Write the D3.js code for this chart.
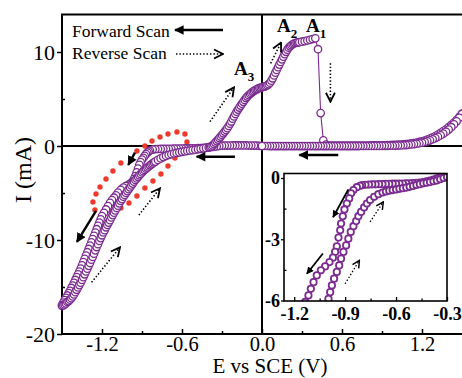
<!DOCTYPE html>
<html>
<head>
<meta charset="utf-8">
<script src="https://cdn.jsdelivr.net/npm/d3@7"></script>
<style>
  body { margin: 0; background: #fff; }
  svg { display: block; }
  text { font-family: "Liberation Serif", "Times New Roman", serif; fill: #000; }
</style>
</head>
<body>
<svg id="chart" width="462" height="378"></svg>
<script>
// ---- Cyclic voltammogram: potential E (V vs SCE), current I (mA) ----

// forward scan, 0 V down to -1.5 V
const forwardToCathodic = [
  [0.00,0.00],[-0.02,0.02],[-0.04,0.03],[-0.06,0.04],[-0.08,0.05],[-0.10,0.05],[-0.12,0.06],
  [-0.14,0.06],[-0.16,0.06],[-0.18,0.06],[-0.20,0.06],[-0.22,0.06],[-0.24,0.05],[-0.26,0.05],
  [-0.28,0.04],[-0.30,0.03],[-0.32,0.00],[-0.34,-0.04],[-0.36,-0.08],[-0.38,-0.12],[-0.40,-0.15],
  [-0.42,-0.18],[-0.44,-0.20],[-0.46,-0.22],[-0.48,-0.23],[-0.50,-0.24],[-0.52,-0.25],[-0.54,-0.25],
  [-0.56,-0.26],[-0.58,-0.26],[-0.60,-0.27],[-0.62,-0.27],[-0.64,-0.28],[-0.66,-0.28],[-0.68,-0.29],
  [-0.70,-0.29],[-0.72,-0.30],[-0.74,-0.30],[-0.76,-0.31],[-0.78,-0.32],[-0.80,-0.34],[-0.82,-0.38],
  [-0.84,-0.48],[-0.85,-0.58],[-0.86,-0.70],[-0.87,-0.86],[-0.88,-1.05],[-0.89,-1.25],[-0.90,-1.45],
  [-0.91,-1.70],[-0.92,-2.00],[-0.93,-2.40],[-0.94,-2.80],[-0.95,-3.20],[-0.96,-3.50],[-0.97,-3.75],
  [-0.98,-3.92],[-0.99,-4.03],[-1.00,-4.12],[-1.02,-4.25],[-1.04,-4.42],[-1.06,-4.65],[-1.08,-4.95],
  [-1.095,-5.25],[-1.11,-5.50],[-1.125,-5.75],[-1.14,-6.05],[-1.155,-6.40],[-1.17,-6.75],[-1.185,-7.10],
  [-1.20,-7.45],[-1.21,-7.80],[-1.22,-8.15],[-1.23,-8.50],[-1.24,-8.85],[-1.25,-9.20],[-1.26,-9.55],
  [-1.27,-9.90],[-1.28,-10.25],[-1.29,-10.60],[-1.30,-10.95],[-1.31,-11.30],[-1.32,-11.65],[-1.33,-12.00],
  [-1.34,-12.35],[-1.35,-12.70],[-1.36,-13.05],[-1.37,-13.35],[-1.38,-13.65],[-1.39,-13.95],[-1.40,-14.25],
  [-1.41,-14.55],[-1.42,-14.85],[-1.43,-15.10],[-1.44,-15.40],[-1.45,-15.65],[-1.46,-15.90],[-1.47,-16.15],
  [-1.48,-16.40],[-1.49,-16.65],[-1.50,-16.90]
];

// reverse scan, -1.5 V up to +1.5 V
const reverseScan = [
  [-1.50,-17.00],[-1.49,-16.95],[-1.48,-16.85],[-1.47,-16.75],[-1.46,-16.60],[-1.45,-16.50],[-1.44,-16.35],
  [-1.43,-16.20],[-1.42,-16.00],[-1.41,-15.80],[-1.40,-15.55],[-1.39,-15.30],[-1.38,-15.05],[-1.37,-14.80],
  [-1.36,-14.55],[-1.35,-14.25],[-1.34,-13.95],[-1.33,-13.65],[-1.32,-13.35],[-1.31,-13.05],[-1.30,-12.75],
  [-1.29,-12.45],[-1.28,-12.10],[-1.27,-11.80],[-1.26,-11.45],[-1.25,-11.10],[-1.24,-10.75],[-1.23,-10.45],
  [-1.22,-10.10],[-1.21,-9.80],[-1.20,-9.50],[-1.19,-9.20],[-1.18,-8.95],[-1.17,-8.65],[-1.16,-8.40],
  [-1.15,-8.15],[-1.14,-7.90],[-1.13,-7.60],[-1.12,-7.35],[-1.11,-7.10],[-1.10,-6.85],[-1.09,-6.60],
  [-1.08,-6.35],[-1.07,-6.10],[-1.06,-5.85],[-1.05,-5.65],[-1.04,-5.40],[-1.03,-5.20],[-1.02,-5.00],
  [-1.01,-4.80],[-1.00,-4.60],[-0.99,-4.40],[-0.98,-4.20],[-0.97,-4.00],[-0.96,-3.80],[-0.95,-3.62],
  [-0.94,-3.45],[-0.93,-3.28],[-0.92,-3.12],[-0.91,-2.97],[-0.90,-2.82],[-0.89,-2.68],[-0.88,-2.55],
  [-0.87,-2.42],[-0.86,-2.30],[-0.85,-2.18],[-0.84,-2.06],[-0.83,-1.95],[-0.82,-1.85],[-0.81,-1.75],
  [-0.80,-1.66],[-0.78,-1.48],[-0.76,-1.32],[-0.74,-1.18],[-0.72,-1.06],[-0.70,-0.96],[-0.68,-0.88],
  [-0.66,-0.80],[-0.64,-0.74],[-0.62,-0.68],[-0.60,-0.62],[-0.58,-0.57],[-0.56,-0.52],[-0.54,-0.48],
  [-0.52,-0.44],[-0.50,-0.40],[-0.48,-0.35],[-0.46,-0.30],[-0.44,-0.25],[-0.42,-0.20],[-0.40,-0.14],
  [-0.39,-0.10],[-0.38,-0.04],[-0.37,0.06],[-0.36,0.20],[-0.35,0.36],[-0.34,0.52],[-0.33,0.68],
  [-0.32,0.84],[-0.31,1.00],[-0.30,1.17],[-0.29,1.35],[-0.28,1.53],[-0.27,1.71],[-0.26,1.90],
  [-0.25,2.13],[-0.24,2.37],[-0.23,2.60],[-0.22,2.90],[-0.21,3.15],[-0.20,3.40],[-0.19,3.65],
  [-0.18,3.87],[-0.17,4.09],[-0.16,4.30],[-0.15,4.50],[-0.14,4.70],[-0.13,4.90],[-0.12,5.10],
  [-0.11,5.26],[-0.10,5.40],[-0.09,5.53],[-0.08,5.65],[-0.07,5.76],[-0.06,5.86],[-0.05,5.95],
  [-0.04,6.03],[-0.03,6.10],[-0.02,6.16],[-0.01,6.21],[0.00,6.25],[0.01,6.29],[0.02,6.33],
  [0.03,6.38],[0.04,6.46],[0.05,6.58],[0.06,6.73],[0.07,6.95],[0.08,7.20],[0.09,7.50],
  [0.10,7.80],[0.11,8.09],[0.12,8.38],[0.13,8.66],[0.14,8.94],[0.15,9.22],[0.16,9.50],
  [0.17,9.76],[0.18,10.02],[0.19,10.25],[0.20,10.45],[0.21,10.60],[0.22,10.72],[0.23,10.82],
  [0.24,10.90],[0.25,10.96],[0.26,11.00],[0.27,11.02],[0.28,11.04],[0.30,11.10],[0.32,11.15],
  [0.34,11.22],[0.36,11.30],[0.38,11.38],[0.40,11.45],[0.42,10.30],[0.44,3.50],[0.46,0.60],
  [0.48,0.15],[0.50,0.04],[0.52,0.03],[0.54,0.03],[0.56,0.03],[0.58,0.03],[0.60,0.03],
  [0.62,0.03],[0.64,0.03],[0.66,0.03],[0.68,0.04],[0.70,0.04],[0.72,0.04],[0.74,0.04],
  [0.76,0.05],[0.78,0.05],[0.80,0.05],[0.82,0.06],[0.84,0.06],[0.86,0.07],[0.88,0.07],
  [0.90,0.08],[0.92,0.08],[0.94,0.09],[0.96,0.10],[0.98,0.11],[1.00,0.12],[1.02,0.14],
  [1.04,0.16],[1.06,0.18],[1.08,0.21],[1.10,0.24],[1.12,0.28],[1.14,0.32],[1.16,0.37],
  [1.18,0.43],[1.20,0.50],[1.22,0.58],[1.24,0.68],[1.26,0.79],[1.28,0.92],[1.30,1.06],
  [1.32,1.22],[1.34,1.39],[1.36,1.58],[1.38,1.78],[1.40,2.00],[1.42,2.24],[1.44,2.50],
  [1.46,2.78],[1.48,3.10],[1.50,3.45]
];

// forward scan, +1.5 V back to 0 V
const forwardFromAnodic = [
  [1.50,3.40],[1.48,3.00],[1.46,2.62],[1.44,2.30],[1.42,2.00],[1.40,1.75],[1.38,1.52],
  [1.36,1.32],[1.34,1.14],[1.32,0.98],[1.30,0.84],[1.28,0.72],[1.26,0.60],[1.24,0.50],
  [1.22,0.42],[1.20,0.35],[1.18,0.29],[1.16,0.24],[1.14,0.20],[1.12,0.16],[1.10,0.13],
  [1.08,0.10],[1.06,0.08],[1.04,0.06],[1.02,0.05],[1.00,0.04],[0.98,0.03],[0.96,0.03],
  [0.94,0.02],[0.92,0.02],[0.90,0.02],[0.88,0.01],[0.86,0.01],[0.84,0.01],[0.82,0.01],
  [0.80,0.00],[0.78,0.00],[0.76,0.00],[0.74,0.00],[0.72,-0.01],[0.70,-0.01],[0.68,-0.01],
  [0.66,-0.01],[0.64,-0.01],[0.62,-0.01],[0.60,-0.01],[0.58,-0.01],[0.56,-0.01],[0.54,-0.01],
  [0.52,-0.01],[0.50,-0.01],[0.48,-0.01],[0.46,-0.01],[0.44,-0.01],[0.42,-0.01],[0.40,-0.01],
  [0.38,-0.01],[0.36,-0.01],[0.34,-0.01],[0.32,-0.01],[0.30,-0.01],[0.28,-0.01],[0.26,-0.01],
  [0.24,-0.01],[0.22,-0.01],[0.20,-0.01],[0.18,-0.01],[0.16,-0.01],[0.14,-0.01],[0.12,-0.01],
  [0.10,-0.01],[0.08,-0.01],[0.06,-0.01],[0.04,0.00],[0.02,0.00],[0.00,0.00]
];

// enlarged view of the cathodic region (inset)
const insetForward = [
  [-0.30,0.15],[-0.32,0.10],[-0.34,0.05],[-0.36,-0.02],[-0.38,-0.08],[-0.40,-0.13],[-0.42,-0.17],
  [-0.44,-0.20],[-0.46,-0.22],[-0.48,-0.24],[-0.50,-0.25],[-0.52,-0.26],[-0.54,-0.26],[-0.56,-0.27],
  [-0.58,-0.27],[-0.60,-0.28],[-0.62,-0.28],[-0.64,-0.29],[-0.66,-0.29],[-0.68,-0.30],[-0.70,-0.30],
  [-0.72,-0.31],[-0.74,-0.31],[-0.76,-0.32],[-0.78,-0.33],[-0.80,-0.35],[-0.812,-0.38],[-0.831,-0.45],
  [-0.851,-0.59],[-0.865,-0.75],[-0.876,-1.00],[-0.890,-1.25],[-0.904,-1.54],[-0.914,-1.87],
  [-0.924,-2.23],[-0.929,-2.56],[-0.939,-2.92],[-0.949,-3.35],[-0.959,-3.62],[-0.972,-3.90],
  [-0.992,-4.12],[-1.018,-4.33],[-1.043,-4.52],[-1.067,-4.77],[-1.086,-5.10],[-1.102,-5.43],
  [-1.116,-5.75],[-1.135,-6.07],[-1.150,-6.40]
];
const insetReverse = [
  [-1.010,-6.30],[-0.998,-5.92],[-0.988,-5.59],[-0.978,-5.26],[-0.965,-4.93],[-0.949,-4.60],
  [-0.935,-4.28],[-0.924,-3.95],[-0.910,-3.62],[-0.894,-3.30],[-0.881,-2.97],[-0.867,-2.64],
  [-0.851,-2.36],[-0.835,-2.11],[-0.822,-1.87],[-0.806,-1.66],[-0.788,-1.44],[-0.772,-1.25],
  [-0.753,-1.08],[-0.729,-0.92],[-0.704,-0.79],[-0.68,-0.71],[-0.66,-0.66],[-0.64,-0.62],
  [-0.62,-0.59],[-0.60,-0.56],[-0.58,-0.53],[-0.56,-0.50],[-0.54,-0.47],[-0.52,-0.43],
  [-0.50,-0.39],[-0.48,-0.34],[-0.46,-0.30],[-0.44,-0.26],[-0.42,-0.23],[-0.40,-0.20],
  [-0.38,-0.16],[-0.36,-0.12],[-0.34,-0.06],[-0.32,0.00],[-0.30,0.05]
];

// axis ticks
const xTicksMain = [-1.2, -0.6, 0.0, 0.6, 1.2];
const xMinorMain = [-0.9, -0.3, 0.3, 0.9];
const yTicksMain = [-20, -10, 0, 10];
const yMinorMain = [-15, -5, 5];
const xTicksInset = [-1.2, -0.9, -0.6, -0.3];
const xMinorInset = [-1.05, -0.75, -0.45];
const yTicksInset = [-6, -3, 0];
const yMinorInset = [-4.5, -1.5];

// red dotted outline around the cathodic loop (E, I)
const highlightDots = [
  [-0.638,1.49],[-0.578,1.28],[-0.563,0.43],[-0.600,-0.43],[-0.653,-1.28],[-0.705,-2.13],
  [-0.758,-2.98],[-0.818,-3.72],[-0.878,-4.47],[-0.938,-5.32],[-0.998,-6.06],[-1.058,-6.60],
  [-1.125,-6.91],[-1.193,-7.02],[-1.253,-6.81],[-1.268,-5.96],[-1.245,-5.11],[-1.215,-4.36],
  [-1.170,-3.51],[-1.118,-2.66],[-1.058,-1.81],[-0.938,-0.53],[-0.878,0.00],[-0.825,0.53],
  [-0.765,0.96],[-0.705,1.28]
];

// scan-direction arrows, [fromE, fromI, toE, toI]
const forwardArrows = [
  [0.572,-0.96,0.280,-0.96],
  [-0.203,-1.14,-0.490,-1.14],
  [-1.245,-6.91,-1.388,-10.21],
  [-0.953,-0.71,-1.003,-2.02]
];
const reverseArrows = [
  [-0.390,2.59,-0.210,6.24],
  [0.065,8.80,0.143,11.00],
  [0.513,8.80,0.513,4.71],
  [-0.923,-7.34,-0.765,-4.50],
  [-1.278,-14.50,-1.065,-10.78]
];
const insetForwardArrows = [
  [-0.881,-0.56,-0.971,-1.92],
  [-1.031,-3.70,-1.125,-4.69]
];
const insetReverseArrows = [
  [-0.753,-2.15,-0.675,-1.17],
  [-0.900,-5.18,-0.816,-4.03]
];

const purple = "#7b2c8f";
const red = "#ee3a2c";

const svg = d3.select("#chart");

// ---- main plot scales ----
const x = d3.scaleLinear().domain([-1.5, 1.5]).range([62, 462]);
const y = d3.scaleLinear().domain([-20, 14]).range([334, 14.4]);

const fmt = d => d === 0 ? "0.0" : d3.format(".1f")(d).replace("−", "-");

// arrowhead markers
const defs = svg.append("defs");
defs.append("marker").attr("id", "solidHead")
  .attr("viewBox", "0 0 10 10").attr("refX", 9).attr("refY", 5)
  .attr("markerWidth", 4.2).attr("markerHeight", 4).attr("markerUnits", "strokeWidth")
  .attr("orient", "auto")
  .append("path").attr("d", "M0,0 L10,5 L0,10 Z").attr("fill", "#000");
defs.append("marker").attr("id", "openHead")
  .attr("viewBox", "0 0 10 10").attr("refX", 9).attr("refY", 5)
  .attr("markerWidth", 7).attr("markerHeight", 7).attr("markerUnits", "strokeWidth")
  .attr("orient", "auto")
  .append("path").attr("d", "M1,1 L9,5 L1,9").attr("fill", "none")
  .attr("stroke", "#000").attr("stroke-width", 1.6);
defs.append("clipPath").attr("id", "insetClip")
  .append("rect").attr("x", 284).attr("y", 173.5).attr("width", 163).attr("height", 127.5);

// zero lines
svg.append("line").attr("x1", x(-1.5)).attr("x2", x(1.5)).attr("y1", y(0)).attr("y2", y(0))
  .attr("stroke", "#000").attr("stroke-width", 2);
svg.append("line").attr("x1", x(0)).attr("x2", x(0)).attr("y1", y(-20)).attr("y2", y(14))
  .attr("stroke", "#000").attr("stroke-width", 2);

// frame (left, bottom, top)
svg.append("path")
  .attr("d", `M${x(1.5)},${y(14)} L${x(-1.5)},${y(14)} L${x(-1.5)},${y(-20)} L${x(1.5)},${y(-20)}`)
  .attr("fill", "none").attr("stroke", "#000").attr("stroke-width", 2);

// axes
const xAxis = svg.append("g").attr("transform", `translate(0,${y(-20)})`)
  .call(d3.axisBottom(x).tickValues(xTicksMain).tickSize(-5).tickPadding(2.5).tickFormat(fmt));
xAxis.select(".domain").remove();
xAxis.selectAll("line").attr("stroke", "#000").attr("stroke-width", 1.5);
xAxis.selectAll("text").attr("font-size", 20.5).attr("dy", "0.71em");
svg.append("g").attr("transform", `translate(0,${y(-20)})`)
  .call(d3.axisBottom(x).tickValues(xMinorMain).tickSize(-3).tickFormat(""))
  .call(g => g.select(".domain").remove())
  .selectAll("line").attr("stroke", "#000").attr("stroke-width", 1.5);

const yAxis = svg.append("g").attr("transform", `translate(${x(-1.5)},0)`)
  .call(d3.axisLeft(y).tickValues(yTicksMain).tickSize(5).tickPadding(2)
    .tickFormat(d => String(d)));
yAxis.select(".domain").remove();
yAxis.selectAll("line").attr("stroke", "#000").attr("stroke-width", 1.5);
yAxis.selectAll("text").attr("font-size", 22);
svg.append("g").attr("transform", `translate(${x(-1.5)},0)`)
  .call(d3.axisLeft(y).tickValues(yMinorMain).tickSize(-3).tickFormat(""))
  .call(g => g.select(".domain").remove())
  .selectAll("line").attr("stroke", "#000").attr("stroke-width", 1.5);

// axis titles
svg.append("text").attr("x", 270).attr("y", 373.3).attr("text-anchor", "middle")
  .attr("font-size", 21).text("E vs SCE (V)");
svg.append("text").attr("transform", "translate(31,170) rotate(-90)")
  .attr("text-anchor", "middle").attr("font-size", 24).text("I (mA)");

// red dotted outline
svg.append("g").selectAll("circle").data(highlightDots).join("circle")
  .attr("cx", d => x(d[0])).attr("cy", d => y(d[1])).attr("r", 2.7).attr("fill", red);

// voltammogram: thin connecting line plus open circles in acquisition order
const sweep = forwardToCathodic.concat(reverseScan, forwardFromAnodic);
const line = d3.line().x(d => x(d[0])).y(d => y(d[1]));
svg.append("path").datum(sweep).attr("d", line)
  .attr("fill", "none").attr("stroke", purple).attr("stroke-width", 1.1);
svg.append("g").selectAll("circle").data(sweep).join("circle")
  .attr("cx", d => x(d[0])).attr("cy", d => y(d[1])).attr("r", 3.7)
  .attr("fill", "#fff").attr("stroke", purple).attr("stroke-width", 1.3);

// arrows
function drawArrows(g, list, sx, sy, dotted, width) {
  g.selectAll(null).data(list).join("line")
    .attr("x1", d => sx(d[0])).attr("y1", d => sy(d[1]))
    .attr("x2", d => sx(d[2])).attr("y2", d => sy(d[3]))
    .attr("stroke", "#000").attr("stroke-width", width)
    .attr("stroke-dasharray", dotted ? "1.4,2" : null)
    .attr("marker-end", dotted ? "url(#openHead)" : "url(#solidHead)");
}
drawArrows(svg.append("g"), forwardArrows, x, y, false, 2.4);
drawArrows(svg.append("g"), reverseArrows, x, y, true, 1.6);

// peak labels
function peakLabel(px, py, sub) {
  const t = svg.append("text").attr("x", px).attr("y", py)
    .attr("font-size", 19).attr("font-weight", "bold");
  t.append("tspan").text("A");
  t.append("tspan").attr("dy", 6).attr("font-size", 13).text(sub);
}
peakLabel(306, 32, "1");
peakLabel(277, 32, "2");
peakLabel(234, 75, "3");

// legend
svg.append("text").attr("x", 72).attr("y", 37).attr("font-size", 17.5).text("Forward Scan");
svg.append("text").attr("x", 72).attr("y", 59).attr("font-size", 17.5).text("Reverse Scan");
svg.append("line").attr("x1", 223).attr("y1", 30).attr("x2", 175).attr("y2", 30)
  .attr("stroke", "#000").attr("stroke-width", 2.4).attr("marker-end", "url(#solidHead)");
svg.append("line").attr("x1", 176).attr("y1", 54).attr("x2", 223).attr("y2", 54)
  .attr("stroke", "#000").attr("stroke-width", 1.6).attr("stroke-dasharray", "1.4,2")
  .attr("marker-end", "url(#openHead)");

// ---- inset ----
const xi = d3.scaleLinear().domain([-1.26, -0.3]).range([284, 447]);
const yi = d3.scaleLinear().domain([-6, 0]).range([300.5, 178]);

svg.append("rect").attr("x", 284).attr("y", 173.5).attr("width", 163).attr("height", 127.5)
  .attr("fill", "#fff");

const inset = svg.append("g").attr("clip-path", "url(#insetClip)");
[insetForward, insetReverse].forEach(series => {
  inset.append("path").datum(series)
    .attr("d", d3.line().x(d => xi(d[0])).y(d => yi(d[1])))
    .attr("fill", "none").attr("stroke", purple).attr("stroke-width", 1);
  inset.append("g").selectAll("circle").data(series).join("circle")
    .attr("cx", d => xi(d[0])).attr("cy", d => yi(d[1])).attr("r", 3.2)
    .attr("fill", "#fff").attr("stroke", purple).attr("stroke-width", 1.8);
});
drawArrows(svg.append("g"), insetForwardArrows, xi, yi, false, 1.8);
drawArrows(svg.append("g"), insetReverseArrows, xi, yi, true, 1.3);

svg.append("rect").attr("x", 284).attr("y", 173.5).attr("width", 163).attr("height", 127.5)
  .attr("fill", "none").attr("stroke", "#000").attr("stroke-width", 1.6);

const xiAxis = svg.append("g").attr("transform", "translate(0,301)")
  .call(d3.axisBottom(xi).tickValues(xTicksInset).tickSize(-4).tickPadding(6)
    .tickFormat(d => d3.format(".1f")(d).replace("−", "-")));
xiAxis.select(".domain").remove();
xiAxis.selectAll("line").attr("stroke", "#000").attr("stroke-width", 1.3);
xiAxis.selectAll("text").attr("font-size", 18).attr("font-weight", "bold").attr("dy", "0.71em");
svg.append("g").attr("transform", "translate(0,301)")
  .call(d3.axisBottom(xi).tickValues(xMinorInset).tickSize(-2.5).tickFormat(""))
  .call(g => g.select(".domain").remove())
  .selectAll("line").attr("stroke", "#000").attr("stroke-width", 1.3);

const yiAxis = svg.append("g").attr("transform", "translate(284,0)")
  .call(d3.axisLeft(yi).tickValues(yTicksInset).tickSize(3).tickPadding(1)
    .tickFormat(d => String(d)));
yiAxis.select(".domain").remove();
yiAxis.selectAll("line").attr("stroke", "#000").attr("stroke-width", 1.3);
yiAxis.selectAll("text").attr("font-size", 18).attr("font-weight", "bold");
svg.append("g").attr("transform", "translate(284,0)")
  .call(d3.axisLeft(yi).tickValues(yMinorInset).tickSize(-2.5).tickFormat(""))
  .call(g => g.select(".domain").remove())
  .selectAll("line").attr("stroke", "#000").attr("stroke-width", 1.3);
</script>
</body>
</html>
